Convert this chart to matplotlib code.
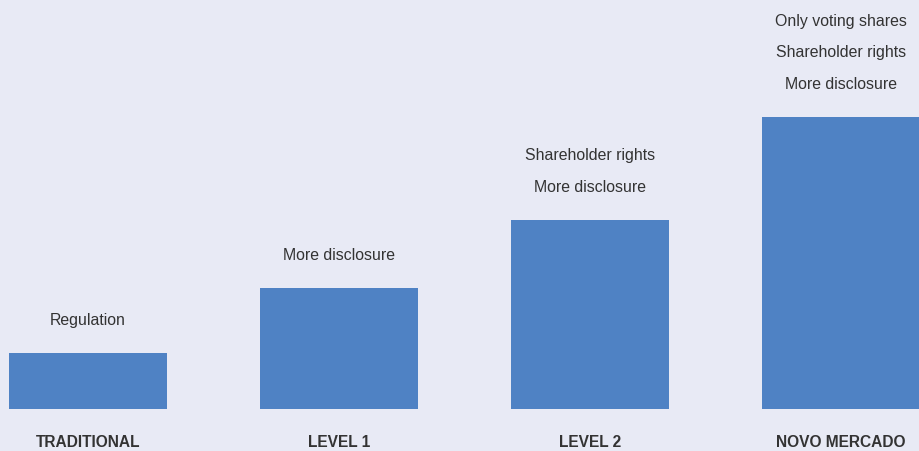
import matplotlib.pyplot as plt

# Listing segments and relative governance requirement level
categories = ['TRADITIONAL', 'LEVEL 1', 'LEVEL 2', 'NOVO MERCADO']
levels = [56, 121, 189, 292]
features = [
    ['Regulation'],
    ['More disclosure'],
    ['More disclosure', 'Shareholder rights'],
    ['More disclosure', 'Shareholder rights', 'Only voting shares'],
]

bg = '#E8EAF5'
bar_color = '#4F82C4'
text_color = '#333333'

plt.rcParams['font.family'] = ['Liberation Sans', 'DejaVu Sans']

fig = plt.figure(figsize=(9.19, 4.52), dpi=100, facecolor=bg)
ax = fig.add_axes([0, 0, 1, 1])
ax.set_facecolor(bg)

x = list(range(len(categories)))
ax.bar(x, levels, width=0.63, color=bar_color)

for xi, v, feats in zip(x, levels, features):
    for i, f in enumerate(feats):
        ax.text(xi, v + 33.5 + 31.5 * i, f, ha='center', va='center',
                fontsize=11.4, color=text_color)
    ax.text(xi, -33, categories[xi], ha='center', va='center',
            fontsize=11.2, fontweight='bold', color=text_color)

ax.set_xlim(-0.3506, 3.311)
ax.set_ylim(-42, 410)
ax.axis('off')

fig.savefig('out.png', dpi=100, facecolor=bg)
